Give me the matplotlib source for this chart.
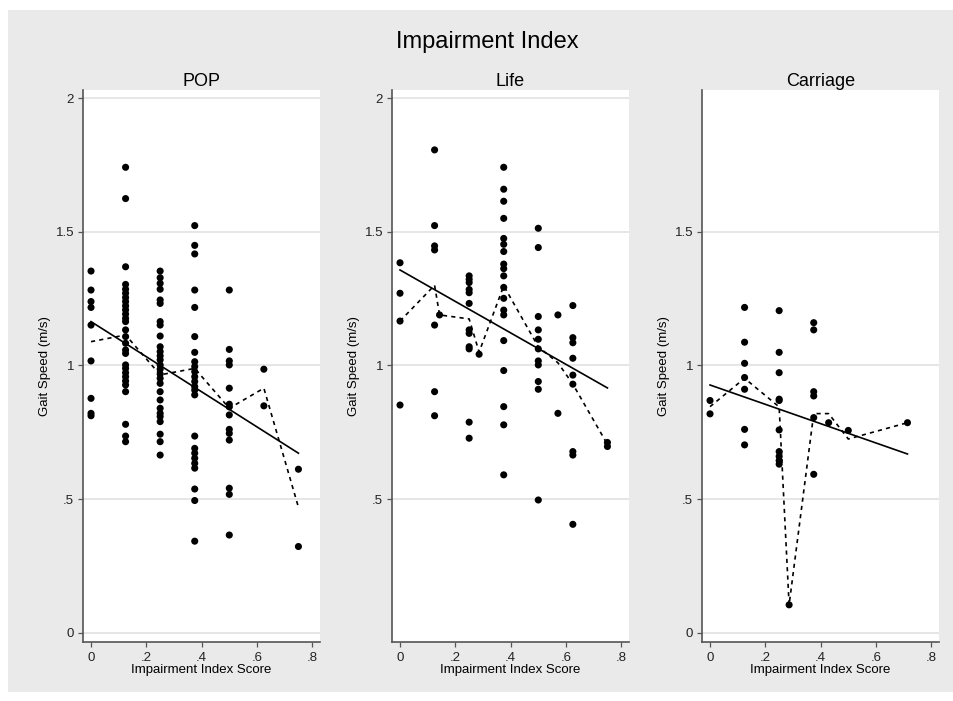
import matplotlib
matplotlib.use("Agg")
import matplotlib.pyplot as plt
from matplotlib.patches import Rectangle

plt.rcParams["font.family"] = ["Liberation Sans", "DejaVu Sans"]

# Impairment index scores (x columns) and gait speeds
pop_scores = [0, 0.125, 0.25, 0.375, 0.5, 0.625, 0.75]
pop_speeds = [
    [1.353, 1.282, 1.239, 1.217, 1.151, 1.017, 0.877, 0.821, 0.812],
    [1.741, 1.624, 1.369, 1.303, 1.285, 1.270, 1.254, 1.239, 1.223, 1.208,
     1.192, 1.176, 1.164, 1.133, 1.108, 1.083, 1.058, 1.045, 1.002, 0.989,
     0.973, 0.958, 0.942, 0.927, 0.902, 0.780, 0.736, 0.715],
    [1.353, 1.328, 1.307, 1.285, 1.245, 1.232, 1.164, 1.151, 1.110, 1.070,
     1.052, 1.036, 1.021, 1.002, 0.986, 0.968, 0.952, 0.933, 0.902, 0.871,
     0.840, 0.821, 0.809, 0.790, 0.743, 0.715, 0.665],
    [1.523, 1.449, 1.417, 1.282, 1.217, 1.108, 1.049, 1.014, 0.996, 0.977,
     0.958, 0.940, 0.921, 0.908, 0.890, 0.736, 0.690, 0.672, 0.653, 0.634,
     0.616, 0.538, 0.495, 0.343],
    [1.282, 1.060, 1.017, 1.002, 0.915, 0.855, 0.845, 0.815, 0.761, 0.746,
     0.721, 0.541, 0.518, 0.366],
    [0.986, 0.849],
    [0.612, 0.323],
]
pop_fit_x = [0, 0.75]
pop_fit_y = [1.164, 0.672]
pop_mean_x = [0, 0.125, 0.25, 0.375, 0.5, 0.625, 0.75]
pop_mean_y = [1.089, 1.114, 0.965, 0.989, 0.840, 0.915, 0.470]

life_scores = [0, 0.125, 0.143, 0.25, 0.286, 0.375, 0.5, 0.571, 0.625, 0.75]
life_speeds = [
    [1.384, 1.270, 1.166, 0.852],
    [1.806, 1.523, 1.447, 1.432, 1.151, 0.902, 0.812],
    [1.189],
    [1.335, 1.322, 1.310, 1.284, 1.272, 1.232, 1.133, 1.120, 1.070, 1.062,
     0.788, 0.728],
    [1.042],
    [1.741, 1.659, 1.614, 1.550, 1.475, 1.453, 1.426, 1.379, 1.362, 1.335,
     1.292, 1.251, 1.207, 1.189, 1.093, 0.981, 0.846, 0.778, 0.591],
    [1.513, 1.441, 1.183, 1.133, 1.098, 1.062, 1.017, 1.002, 0.940, 0.911,
     0.497],
    [1.189, 0.821],
    [1.224, 1.104, 1.085, 1.027, 0.964, 0.930, 0.678, 0.665, 0.406],
    [0.712, 0.697],
]
life_fit_x = [0, 0.75]
life_fit_y = [1.357, 0.916]
life_mean_x = [0, 0.125, 0.143, 0.25, 0.286, 0.375, 0.5, 0.571, 0.625, 0.75]
life_mean_y = [1.166, 1.300, 1.189, 1.174, 1.050, 1.298, 1.070, 1.010, 0.930, 0.705]

carr_scores = [0, 0.125, 0.25, 0.286, 0.375, 0.429, 0.5, 0.714]
carr_speeds = [
    [0.869, 0.819],
    [1.217, 1.087, 1.008, 0.955, 0.911, 0.761, 0.703],
    [1.205, 1.049, 0.973, 0.874, 0.869, 0.759, 0.678, 0.660, 0.644, 0.631],
    [0.105],
    [1.160, 1.133, 0.902, 0.886, 0.805, 0.593],
    [0.786],
    [0.757],
    [0.786],
]
carr_fit_x = [0, 0.714]
carr_fit_y = [0.927, 0.669]
carr_mean_x = [0, 0.125, 0.25, 0.286, 0.375, 0.429, 0.5, 0.714]
carr_mean_y = [0.846, 0.952, 0.845, 0.105, 0.820, 0.820, 0.725, 0.786]

panel_titles = ["POP", "Life", "Carriage"]
x_ticks = [0, 0.2, 0.4, 0.6, 0.8]
x_ticklabels = ["0", ".2", ".4", ".6", ".8"]
y_ticks_by_panel = [[0, 0.5, 1, 1.5, 2], [0.5, 1, 1.5, 2], [0, 0.5, 1, 1.5]]
y_labels_all = {0: "0", 0.5: ".5", 1: "1", 1.5: "1.5", 2: "2"}

panels = [
    (pop_scores, pop_speeds, pop_fit_x, pop_fit_y, pop_mean_x, pop_mean_y),
    (life_scores, life_speeds, life_fit_x, life_fit_y, life_mean_x, life_mean_y),
    (carr_scores, carr_speeds, carr_fit_x, carr_fit_y, carr_mean_x, carr_mean_y),
]

W, H = 954, 701
fig = plt.figure(figsize=(W / 100, H / 100), dpi=100, facecolor="white")

# gray graph region (Stata s2color-ish)
fig.patches.append(Rectangle((8 / W, 9 / H), 945 / W, 682 / H,
                             transform=fig.transFigure, facecolor="#eaeaea",
                             edgecolor="none", zorder=-10))

fig.text(487 / W, 1 - 42 / H, "Impairment Index", ha="center", va="center",
         fontsize=17)

lefts = [83, 392, 702]
for i, (scores, speeds, fx, fy, mx, my) in enumerate(panels):
    ax = fig.add_axes([lefts[i] / W, 59 / H, 237 / W, 552 / H])
    ax.set_facecolor("white")

    xs, ys = [], []
    for s, col in zip(scores, speeds):
        xs += [s] * len(col)
        ys += col
    ax.scatter(xs, ys, s=26, color="black", edgecolors="none", zorder=3)
    ax.plot(fx, fy, color="black", lw=1.2, zorder=4)
    ax.plot(mx, my, color="black", lw=1.2, linestyle=(0, (2.5, 2.5)), zorder=4)

    ax.set_xlim(-0.029, 0.828)
    ax.set_ylim(-0.034, 2.03)

    yt = y_ticks_by_panel[i]
    ax.set_yticks(yt)
    ax.set_yticklabels([y_labels_all[v] for v in yt])
    ax.set_xticks(x_ticks)
    ax.set_xticklabels(x_ticklabels)
    for v in yt:
        ax.axhline(v, color="#e4e4e4", lw=1.3, zorder=1)

    for side in ["top", "right"]:
        ax.spines[side].set_visible(False)
    for side in ["left", "bottom"]:
        ax.spines[side].set_color("#555555")
        ax.spines[side].set_linewidth(1.2)
    ax.tick_params(axis="both", length=3.5, width=0.9, color="#555555",
                   labelsize=9.5, labelcolor="#222222")
    ax.tick_params(axis="x", pad=3.5)
    ax.tick_params(axis="y", pad=3)

    ax.set_title(panel_titles[i], fontsize=13, pad=3)
    ax.set_xlabel("Impairment Index Score", fontsize=9.5, labelpad=0)
    ax.set_ylabel("Gait Speed (m/s)", fontsize=9.5, labelpad=3)

fig.savefig("out.png", dpi=100, facecolor=fig.get_facecolor())
plt.close()
